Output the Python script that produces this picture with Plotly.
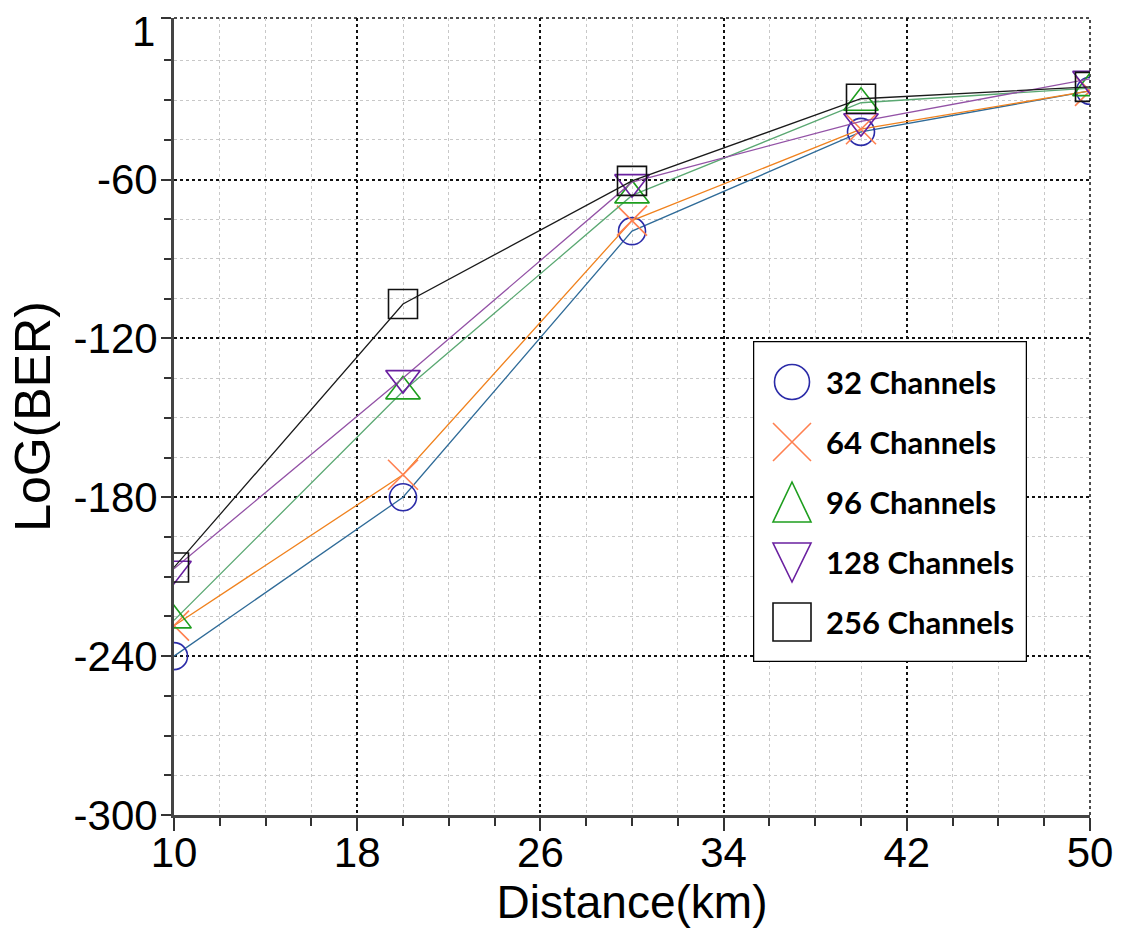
import plotly.graph_objects as go

# ---------------- data ----------------
distance_km = [10, 20, 30, 40, 50]
series_names = ["32 Channels", "64 Channels", "96 Channels", "128 Channels", "256 Channels"]
ber_32 = [-240, -180, -79.5, -42, -26.5]
ber_64 = [-228.5, -171.5, -75.5, -41, -26.5]
ber_96 = [-226.5, -140, -66, -31, -25.5]
ber_128 = [-207, -135, -61, -38, -22]
ber_256 = [-206.5, -107, -60.5, -29.5, -25]
y_tick_vals = [-300, -240, -180, -120, -60, 1]
y_tick_text = ["-300", "-240", "-180", "-120", "-60", ""]
y_top_label = "1"
y_top_value = 1
x_tick_vals = [10, 18, 26, 34, 42, 50]

# ---------------- styles ----------------
line_colors = ["#2f6b98", "#f0821e", "#5aa872", "#9352a6", "#1a1a1a"]
marker_colors = ["#2b2ba8", "#ff8050", "#1e9e1e", "#6a20a0", "#111111"]
symbols = ["circle-open", "x-thin-open", "triangle-up-open", "triangle-down-open", "square-open"]
sizes = [27, 30, 30, 30, 29]
all_series = [ber_32, ber_64, ber_96, ber_128, ber_256]

fig = go.Figure()
for name, ys, lc, mc, sym, sz in zip(series_names, all_series, line_colors, marker_colors, symbols, sizes):
    fig.add_trace(go.Scatter(
        x=distance_km, y=ys, name=name, mode="lines+markers",
        line=dict(color=lc, width=1.3),
        marker=dict(symbol=sym, size=sz, color=mc, line=dict(color=mc, width=1.6)),
        showlegend=False,
    ))

# ---------------- frame edges (dotted top/right like the reference) ----------------
shapes = [
    dict(type="line", xref="paper", yref="paper", x0=0, x1=1, y0=1, y1=1,
         line=dict(color="#111", width=1.5, dash="dot"), layer="below"),
    dict(type="line", xref="paper", yref="paper", x0=1, x1=1, y0=0, y1=1,
         line=dict(color="#111", width=1.5, dash="dot"), layer="below"),
]

tick_font = dict(family="Liberation Sans, Arial, sans-serif", size=42, color="black")

# top y tick label, nudged down so it stays inside the page (as in the reference)
annotations = [dict(xref="paper", yref="y", x=0, y=y_top_value, text=y_top_label,
                    showarrow=False, xanchor="right", yanchor="middle",
                    xshift=-17, yshift=-13, font=tick_font)]

# ---------------- custom legend (box in its own pixel-like axis) ----------------
L_W, L_H = 274, 321
row_step = 60
row0 = 41
sym_x = 39
half = 19
shapes.append(dict(type="rect", xref="x2", yref="y2", x0=0, x1=L_W, y0=0, y1=L_H,
                   line=dict(color="black", width=2.5), fillcolor="white", layer="above"))
for i, (name, mc) in enumerate(zip(series_names, marker_colors)):
    cy = row0 + i * row_step
    ln = dict(color=mc, width=1.6)
    if i == 0:
        shapes.append(dict(type="circle", xref="x2", yref="y2", x0=sym_x - 17.5, x1=sym_x + 17.5,
                           y0=cy - 17.5, y1=cy + 17.5, line=ln, layer="above"))
    elif i == 1:
        shapes.append(dict(type="path", xref="x2", yref="y2", layer="above", line=ln,
                           path=f"M {sym_x-half},{cy-half} L {sym_x+half},{cy+half} M {sym_x-half},{cy+half} L {sym_x+half},{cy-half}"))
    elif i == 2:
        shapes.append(dict(type="path", xref="x2", yref="y2", layer="above", line=ln,
                           path=f"M {sym_x},{cy-half-1} L {sym_x+half},{cy+half+1} L {sym_x-half},{cy+half+1} Z"))
    elif i == 3:
        shapes.append(dict(type="path", xref="x2", yref="y2", layer="above", line=ln,
                           path=f"M {sym_x-half},{cy-half} L {sym_x+half},{cy-half} L {sym_x},{cy+half+1} Z"))
    else:
        shapes.append(dict(type="rect", xref="x2", yref="y2", x0=sym_x - half, x1=sym_x + half,
                           y0=cy - half, y1=cy + half, line=ln, layer="above"))
    annotations.append(dict(xref="x2", yref="y2", x=71, y=cy, text=f"<b>{name}</b>",
                            showarrow=False, xanchor="left", yanchor="middle",
                            font=dict(family="Lato, Noto Sans, sans-serif", size=31, color="black")))

W, H = 1127, 930
ml, mr, mt, mb = 174, 37, 18, 115
pw, ph = W - ml - mr, H - mt - mb
box_l, box_t = 753, 341
x2_dom = [(box_l - ml) / pw, (box_l + L_W - ml) / pw]
y2_dom = [(H - mb - (box_t + L_H)) / ph, (H - mb - box_t) / ph]

y_minor_vals = [v for v in range(-285, 0, 15) if v % 60 != 0]

fig.update_layout(
    width=W, height=H,
    margin=dict(l=ml, r=mr, t=mt, b=mb),
    paper_bgcolor="white", plot_bgcolor="white",
    xaxis=dict(
        range=[10, 50], tickmode="array", tickvals=x_tick_vals,
        tickfont=tick_font, ticks="outside", ticklen=13, tickwidth=2, tickcolor="#333",
        ticklabelstandoff=-14, ticklabeloverflow="allow",
        showline=True, linecolor="#444", linewidth=3,
        showgrid=True, gridcolor="#111", griddash="dot", gridwidth=1.5,
        zeroline=False,
        minor=dict(tickmode="linear", tick0=10, dtick=2, ticks="outside", ticklen=8,
                   tickwidth=2, tickcolor="#333", showgrid=True, gridcolor="#c8c8c8",
                   griddash="dot", gridwidth=1),
        title=dict(text="Distance(km)", font=dict(family="Liberation Sans, Arial, sans-serif",
                   size=46, color="black"), standoff=2),
        automargin=False,
    ),
    yaxis=dict(
        range=[-300, 1], tickmode="array", tickvals=y_tick_vals, ticktext=y_tick_text,
        tickfont=tick_font, ticks="outside", ticklen=10, tickwidth=2, tickcolor="#333",
        ticklabelstandoff=-5, ticklabeloverflow="allow",
        showline=True, linecolor="#444", linewidth=3,
        showgrid=True, gridcolor="#111", griddash="dot", gridwidth=1.5,
        zeroline=False,
        minor=dict(tickmode="array", tickvals=y_minor_vals, ticks="outside", ticklen=7,
                   tickwidth=2, tickcolor="#333", showgrid=True, gridcolor="#c8c8c8",
                   griddash="dot", gridwidth=1),
        title=dict(text="LoG(BER)", font=dict(family="Liberation Sans, Arial, sans-serif",
                   size=50, color="black"), standoff=8),
        automargin=False,
    ),
    xaxis2=dict(domain=x2_dom, range=[0, L_W], visible=False, anchor="y2", fixedrange=True),
    yaxis2=dict(domain=y2_dom, range=[L_H, 0], visible=False, anchor="x2", fixedrange=True),
    shapes=shapes,
    annotations=annotations,
    showlegend=False,
)

fig.write_html("out.html")
